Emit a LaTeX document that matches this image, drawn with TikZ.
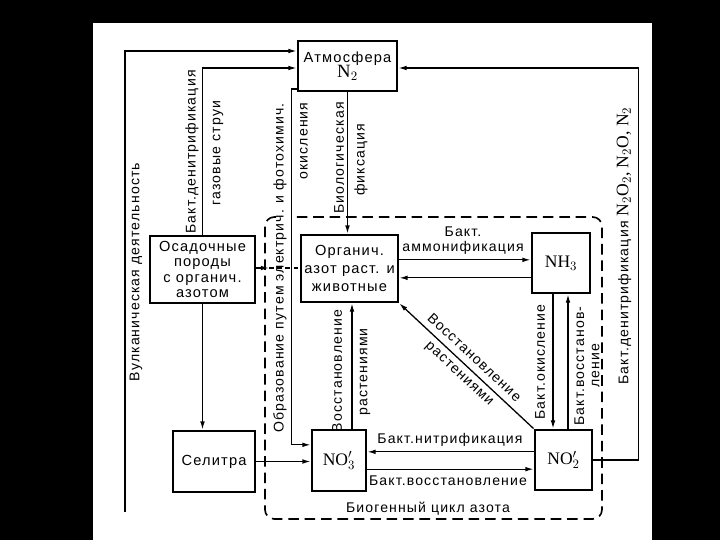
\documentclass[tikz,border=0pt]{standalone}
\usepackage{fontspec}
\setmainfont[LetterSpace=8]{Liberation Sans}
\newfontfamily\formfont{Liberation Serif}
\usetikzlibrary{arrows.meta, positioning, calc}

\begin{document}
\begin{tikzpicture}[x=0.03cm, y=-0.03cm,
  cbox/.style={draw, line width=2.4pt, align=center, inner sep=0pt, font=\fontsize{12.5}{13.2}\selectfont},
  fbox/.style={cbox, font=\formfont\fontsize{15}{16}\selectfont},
  arr/.style={line width=1.1pt, -{Latex[length=7pt, width=4pt]}},
  lbl/.style={font=\fontsize{12}{13}\selectfont, inner sep=1pt, align=center},
  vlbl/.style={lbl, rotate=90}
]
  \useasboundingbox (0,0) rectangle (720,540);
  \fill[black] (0,0) rectangle (720,540);
  \fill[white] (93,23) rectangle (652,540);

  \node[cbox, minimum width=2.97cm, minimum height=1.5cm] (atm) at (347.5,66) {Атмосфера\\{\formfont\fontsize{16}{16}\selectfont N$_2$}};
  \node[cbox, minimum width=2.91cm, minimum height=2.01cm, font=\fontsize{12.5}{15.4}\selectfont] (org) at (349.5,268.5) {Органич.\\азот раст. и\\животные};
  \node[fbox, minimum width=1.74cm, minimum height=1.8cm] (nh3) at (561,263) {NH$_3$};
  \node[cbox, minimum width=3.15cm, minimum height=2.01cm] (sed) at (202.5,269.5) {Осадочные\\породы\\с органич.\\азотом};
  \node[cbox, minimum width=2.46cm, minimum height=1.83cm] (sel) at (214,461.5) {Селитра};
  \node[fbox, minimum width=1.62cm, minimum height=1.83cm] (no3) at (339,460.5) {NO$_3'$};
  \node[fbox, minimum width=1.71cm, minimum height=1.8cm] (no2) at (563.5,460) {NO$_2'$};

  \coordinate (volc) at (125,512);
  \coordinate (dcross) at (269,268);
  \draw[arr] (volc) |- ([yshift=0.45cm]atm.west);
  \draw[arr] (sed.north) |- ([yshift=-0.06cm]atm.west);
  \draw[arr] ([yshift=0.1cm]atm.south west) -- ++(-5,0) |- ([yshift=0.47cm]no3.west);
  \draw[arr] (atm.south) -- (atm.south |- org.north);
  \draw[arr] (sed.east |- dcross) -- (dcross);
  \draw[line width=1.1pt, dash pattern=on 4pt off 3pt] (dcross) -- (org.west |- dcross);
  \draw[arr] ([yshift=0.26cm]org.east) -- ([yshift=0.26cm]org.east -| nh3.west);
  \draw[arr] ([yshift=-0.28cm]org.east -| nh3.west) -- ([yshift=-0.28cm]org.east);
  \draw[arr] ([xshift=-0.24cm]nh3.south) -- ([xshift=-0.24cm]nh3.south |- no2.north);
  \draw[arr] ([xshift=0.21cm]nh3.south |- no2.north) -- ([xshift=0.21cm]nh3.south);
  \draw[arr] (no2.north west) -- node[lbl, sloped] {Восстановление\\[5pt]растениями} (org.south east);
  \draw[arr] ([xshift=0.39cm]no3.north) -- ([xshift=0.39cm]no3.north |- org.south);
  \draw[arr] ([yshift=0.26cm]no3.east -| no2.west) -- ([yshift=0.26cm]no3.east);
  \draw[arr] ([yshift=-0.26cm]no3.east) -- ([yshift=-0.26cm]no3.east -| no2.west);
  \draw[arr] (sel.east) -- (sel.east -| no3.west);
  \draw[arr] (sed.south) -- (sed.south |- sel.north);
  \draw[arr] (no2.east) -- ++(45,0) |- ([yshift=-0.06cm]atm.east);

  % биогенный цикл
  \draw[line width=1.4pt, dash pattern=on 9pt off 5pt, rounded corners=8] (276,217) -- (265,217) -- (265,519) -- (602,519) -- (602,217) -- (292,217);

  \node[vlbl] (lvolc) at (136,272) {Вулканическая деятельность};
  \node[vlbl] (ldenit) at (192,152) {Бакт.денитрификация};
  \node[vlbl] (lgas) at (218,153) {газовые струи};
  \node[vlbl] (lform) at (280,268) {Образование путем электрич. и фотохимич.};
  \node[vlbl] (loxid) at (304,141) {окисления};
  \node[vlbl] (lbio) at (339,158) {Биологическая};
  \node[vlbl] (lfix) at (361,160) {фиксация};
  \node[lbl] (lamm) at (463,241) {Бакт.\\аммонификация};
  \node[vlbl] (lbox) at (540,362) {Бакт.окисление};
  \node[vlbl] (lbred) at (587,366) {Бакт.восстанов-\\ление};
  \node[vlbl] (lred) at (337,371) {Восстановление};
  \node[vlbl] (lplant) at (365,372) {растениями};
  \node[lbl] (lnitr) at (450,440) {Бакт.нитрификация};
  \node[lbl] (lbred2) at (448,481) {Бакт.восстановление};
  \node[lbl] (lcycle) at (428,509) {Биогенный цикл азота};
  \node[vlbl] (ldenit2) at (624,246) {Бакт.денитрификация {\formfont\fontsize{15}{15}\selectfont N$_2$O$_2$, N$_2$O, N$_2$}};
\end{tikzpicture}
\end{document}
